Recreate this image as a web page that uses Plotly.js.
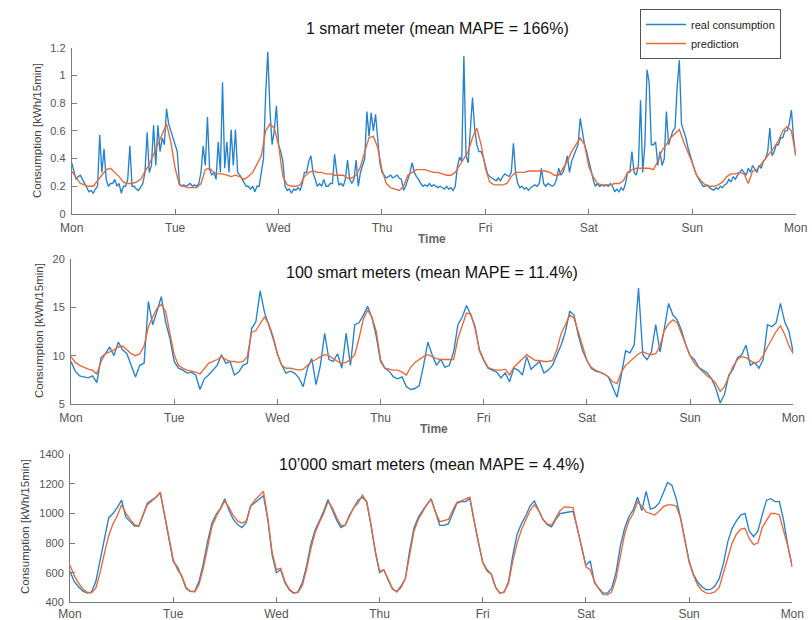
<!DOCTYPE html>
<html>
<head>
<meta charset="utf-8">
<script src="https://cdn.plot.ly/plotly-3.0.1.min.js"></script>
<style>
html,body{margin:0;padding:0;background:#fff;}
#chart{width:812px;height:620px;}
</style>
</head>
<body>
<div id="chart"></div>
<script>
// ---------- data ----------
const dayLabels = ['Mon','Tue','Wed','Thu','Fri','Sat','Sun','Mon'];
const dayTickHours = [0,24,48,72,96,120,144,168];

const seriesNames = ['real consumption','prediction'];

const panelTitles = [
  '1 smart meter (mean MAPE = 166%)',
  '100 smart meters (mean MAPE = 11.4%)',
  '10\u2019000 smart meters (mean MAPE = 4.4%)'
];

// 1 smart meter, real consumption, 30-minute readings (kWh/15min)
const real1 = [
  0.37,0.30,0.25,0.27,0.28,0.25,0.22,0.20,0.16,0.17,0.15,0.18,
  0.20,0.57,0.30,0.47,0.25,0.20,0.22,0.22,0.25,0.20,0.22,0.15,
  0.20,0.20,0.25,0.49,0.20,0.20,0.18,0.17,0.20,0.22,0.30,0.59,
  0.30,0.35,0.64,0.35,0.64,0.45,0.55,0.50,0.76,0.65,0.60,0.55,
  0.50,0.45,0.22,0.20,0.21,0.20,0.21,0.22,0.20,0.21,0.20,0.22,
  0.30,0.49,0.35,0.70,0.32,0.28,0.30,0.25,0.52,0.30,0.95,0.33,
  0.52,0.30,0.61,0.35,0.61,0.30,0.28,0.25,0.22,0.20,0.20,0.18,
  0.20,0.16,0.20,0.20,0.30,0.40,0.86,1.17,0.75,0.50,0.60,0.78,
  0.50,0.45,0.38,0.20,0.17,0.18,0.15,0.18,0.17,0.19,0.17,0.22,
  0.30,0.30,0.38,0.42,0.30,0.25,0.20,0.22,0.20,0.25,0.20,0.20,
  0.22,0.22,0.43,0.30,0.21,0.22,0.20,0.25,0.39,0.25,0.22,0.25,
  0.39,0.20,0.30,0.35,0.40,0.74,0.56,0.73,0.60,0.72,0.56,0.37,
  0.30,0.28,0.26,0.27,0.28,0.26,0.27,0.28,0.26,0.25,0.17,0.20,
  0.25,0.30,0.37,0.30,0.27,0.25,0.22,0.20,0.21,0.20,0.22,0.20,
  0.21,0.20,0.19,0.20,0.19,0.18,0.20,0.18,0.19,0.17,0.20,0.34,
  0.41,0.38,1.14,0.42,0.37,0.60,0.84,0.62,0.50,0.45,0.45,0.41,
  0.35,0.29,0.27,0.26,0.25,0.24,0.26,0.24,0.27,0.29,0.28,0.27,
  0.30,0.51,0.30,0.22,0.19,0.20,0.18,0.19,0.17,0.19,0.20,0.21,
  0.20,0.22,0.33,0.22,0.20,0.22,0.21,0.20,0.21,0.25,0.33,0.28,
  0.30,0.35,0.42,0.30,0.38,0.42,0.45,0.50,0.69,0.58,0.50,0.45,
  0.38,0.30,0.25,0.20,0.22,0.20,0.21,0.20,0.21,0.20,0.22,0.20,
  0.16,0.18,0.16,0.19,0.17,0.22,0.30,0.30,0.45,0.30,0.28,0.35,
  0.82,0.30,0.50,1.04,0.95,0.50,0.50,0.52,0.35,0.45,0.35,0.40,
  0.74,0.50,0.55,0.60,0.62,0.92,1.11,0.65,0.60,0.55,0.48,0.42,
  0.36,0.32,0.28,0.25,0.23,0.20,0.20,0.21,0.19,0.18,0.17,0.19,
  0.18,0.20,0.19,0.21,0.22,0.25,0.23,0.27,0.25,0.28,0.30,0.32,
  0.30,0.28,0.33,0.30,0.35,0.32,0.30,0.35,0.33,0.38,0.40,0.45,
  0.62,0.42,0.45,0.50,0.50,0.55,0.55,0.60,0.60,0.65,0.75,0.55,
  0.42
];

// 1 smart meter, prediction, hourly
const pred1 = [
  0.31,0.26,0.22,0.21,0.20,0.20,0.24,0.28,0.32,0.33,0.30,0.27,0.23,0.22,0.22,0.23,0.25,0.30,0.36,0.43,0.50,0.58,0.65,0.52,
  0.33,0.21,0.20,0.19,0.19,0.19,0.22,0.32,0.33,0.30,0.29,0.29,0.28,0.27,0.28,0.27,0.25,0.27,0.30,0.36,0.42,0.60,0.65,0.62,
  0.50,0.27,0.21,0.20,0.20,0.21,0.27,0.30,0.31,0.30,0.30,0.29,0.29,0.28,0.28,0.28,0.26,0.26,0.28,0.34,0.45,0.55,0.56,0.48,
  0.32,0.22,0.19,0.18,0.17,0.20,0.28,0.30,0.32,0.32,0.32,0.31,0.30,0.30,0.29,0.28,0.28,0.30,0.35,0.40,0.45,0.55,0.62,0.50,
  0.33,0.23,0.21,0.21,0.21,0.22,0.27,0.30,0.30,0.30,0.31,0.31,0.31,0.31,0.31,0.30,0.28,0.28,0.33,0.38,0.45,0.50,0.55,0.50,
  0.34,0.27,0.22,0.21,0.21,0.21,0.22,0.22,0.24,0.30,0.32,0.33,0.33,0.33,0.33,0.32,0.38,0.46,0.50,0.55,0.58,0.61,0.52,0.45,
  0.37,0.28,0.24,0.21,0.20,0.20,0.21,0.23,0.27,0.29,0.29,0.30,0.29,0.22,0.31,0.32,0.36,0.40,0.44,0.48,0.53,0.60,0.63,0.60,
  0.43
];

// 100 smart meters, hourly
const real2 = [
  9.4,8.4,7.9,7.8,7.7,7.9,7.2,9.8,10.2,10.9,10.0,11.4,10.6,10.2,9.1,7.8,9.0,9.2,15.6,13.2,14.6,16.1,13.5,11.8,
  9.4,8.7,8.5,8.2,8.3,8.0,6.5,7.6,8.0,8.5,9.0,10.1,9.2,9.4,8.0,8.3,9.0,9.2,12.8,13.5,16.7,14.5,13.2,11.8,
  10.2,9.0,8.2,8.4,8.2,7.7,6.8,8.7,9.7,7.0,9.0,12.3,9.6,9.4,10.2,8.7,12.3,9.0,13.2,13.4,14.2,15.1,13.9,12.0,
  9.4,8.7,8.4,7.8,7.6,7.8,6.8,6.5,6.6,6.9,9.0,11.4,10.1,9.0,9.6,8.8,9.0,10.4,13.2,14.0,15.2,14.2,13.0,10.5,
  9.5,8.7,8.5,8.3,7.7,8.2,7.3,8.7,8.5,8.0,9.9,8.6,9.0,9.4,8.2,8.5,9.0,10.1,11.1,12.5,14.6,14.2,12.1,10.5,
  9.5,8.7,8.4,8.3,8.1,7.8,6.8,5.7,8.0,10.5,10.3,11.1,17.0,10.1,9.6,10.4,13.2,10.4,12.8,15.4,14.2,13.7,12.6,11.1,
  10.0,9.6,8.8,8.5,8.2,7.6,6.6,5.1,6.0,8.0,8.6,9.8,10.1,11.1,9.0,9.3,8.7,9.6,13.2,13.0,13.4,15.4,13.5,12.5,
  10.3
];
const pred2 = [
  9.9,9.3,9.0,8.8,8.6,8.5,8.1,9.4,10.2,10.4,10.6,10.9,11.0,10.6,10.2,10.0,10.2,11.0,13.0,14.0,14.9,15.3,14.6,12.3,
  10.1,9.0,8.7,8.5,8.4,8.3,8.1,8.7,9.2,9.4,9.6,9.9,9.6,9.4,9.4,9.3,9.4,9.9,12.4,12.6,13.3,14.0,13.3,12.0,
  10.2,9.0,8.7,8.7,8.6,8.5,8.6,9.0,9.4,9.6,9.9,10.1,10.0,9.7,9.4,9.2,9.3,9.6,10.1,11.8,13.8,14.7,14.0,12.5,
  9.6,8.7,8.6,8.5,8.5,8.3,8.0,8.8,9.3,9.6,9.9,10.1,9.9,9.7,9.6,9.6,9.6,9.6,11.8,13.0,14.4,14.3,12.8,10.6,
  9.6,8.8,8.6,8.5,8.5,8.6,8.0,8.8,9.2,9.6,10.1,9.8,9.5,9.5,9.4,9.4,9.5,10.6,12.3,13.2,14.2,13.9,12.5,10.9,
  9.5,8.8,8.5,8.3,8.1,7.8,7.3,7.1,8.3,9.0,9.4,9.9,10.2,10.4,10.2,10.1,10.2,11.0,12.6,13.3,13.7,13.4,12.3,11.2,
  10.0,9.2,8.7,8.3,7.9,7.6,7.1,6.3,6.8,7.8,8.9,9.6,9.9,9.8,9.5,9.2,9.4,10.0,10.9,11.7,12.5,13.1,12.2,11.0,
  10.2
];

// 10'000 smart meters, hourly
const real3 = [
  610,540,505,475,463,468,540,690,840,970,1000,1040,1090,975,945,915,915,1000,1070,1090,1110,1140,975,830,
  675,640,573,495,472,475,540,660,810,935,995,1035,1100,1020,960,925,905,940,1050,1075,1100,1120,960,720,
  600,620,530,485,461,470,530,641,790,889,950,1015,1095,1020,956,905,920,990,1040,1090,1110,1080,920,740,
  600,620,551,490,472,510,560,750,900,974,1020,1060,1100,1010,920,920,930,1000,1070,1080,1080,1100,940,800,
  670,620,590,500,461,470,540,720,860,930,985,1050,1085,1020,960,925,910,960,1000,1005,1010,1015,900,770,
  650,680,530,495,462,462,495,600,780,900,980,1024,1110,1020,1150,1030,1040,1070,1136,1210,1190,1100,970,821,
  680,590,535,505,485,487,510,560,665,810,900,950,990,1000,880,844,880,990,1090,1100,1080,1080,950,776,
  640
];
const pred3 = [
  650,580,530,490,468,465,495,600,730,850,930,985,1060,1000,960,925,915,990,1060,1085,1110,1145,985,840,
  690,620,580,500,475,470,520,630,780,910,980,1030,1085,1040,985,950,935,950,1050,1090,1120,1150,970,740,
  620,630,540,490,465,465,510,620,760,870,940,1000,1080,1040,975,920,920,985,1040,1070,1125,1080,930,750,
  610,620,555,495,470,500,560,730,880,960,1015,1060,1095,1010,945,950,960,1020,1075,1085,1100,1110,950,800,
  670,610,590,500,461,470,530,680,800,890,960,1020,1060,1020,960,930,920,970,1020,1045,1045,1040,900,770,
  640,620,540,490,452,450,470,560,720,860,950,1000,1080,1050,1010,1000,990,1015,1046,1058,1058,1050,970,821,
  670,585,515,480,462,460,470,500,600,710,800,860,895,900,830,790,800,905,956,1000,1001,990,880,776,
  640
];

// ---------- build ----------
const hourly = pred1.map((_, i) => i);
const halfHourly = real1.map((_, i) => i / 2);

const BLUE = '#2682cb';
const ORANGE = '#e6693a';
const LW = 1.35;

function tr(x, y, name, color, xa, ya, show) {
  return {
    type: 'scatter', mode: 'lines', x: x, y: y, name: name,
    line: {color: color, width: LW},
    xaxis: xa, yaxis: ya, showlegend: show, hoverinfo: 'skip'
  };
}

const data = [
  tr(halfHourly, real1, seriesNames[0], BLUE, 'x', 'y', true),
  tr(hourly, pred1, seriesNames[1], ORANGE, 'x', 'y', true),
  tr(hourly, real2, seriesNames[0], BLUE, 'x2', 'y2', false),
  tr(hourly, pred2, seriesNames[1], ORANGE, 'x2', 'y2', false),
  tr(hourly, real3, seriesNames[0], BLUE, 'x3', 'y3', false),
  tr(hourly, pred3, seriesNames[1], ORANGE, 'x3', 'y3', false)
];

const W = 812, H = 620;
const AX = '#7a7a7a';
const FAM = 'Liberation Sans, Arial, sans-serif';
const XTICKFONT = {family: FAM, size: 12, color: '#555555'};
const YTICKFONT = {family: FAM, size: 11, color: '#555555'};

function xax(l, r, anchor, standoff) {
  return {
    domain: [l / W, r / W], anchor: anchor, range: [0, 168],
    tickmode: 'array', tickvals: dayTickHours, ticktext: dayLabels,
    ticks: 'inside', ticklen: 5, tickcolor: AX, tickwidth: 1,
    showline: true, linecolor: AX, linewidth: 1, mirror: false,
    showgrid: false, zeroline: false, tickfont: XTICKFONT, ticklabelstandoff: standoff
  };
}
function yax(top, bottom, anchor, range, dtick) {
  return {
    domain: [1 - bottom / H, 1 - top / H], anchor: anchor, range: range,
    tick0: range[0], dtick: dtick,
    ticks: 'inside', ticklen: 5, tickcolor: AX, tickwidth: 1,
    showline: true, linecolor: AX, linewidth: 1, mirror: false,
    showgrid: false, zeroline: false, tickfont: YTICKFONT, ticklabelstandoff: 3
  };
}

function ann(text, px, py, size, color, angle) {
  return {
    text: text, xref: 'paper', yref: 'paper', x: px / W, y: 1 - py / H,
    xanchor: 'center', yanchor: 'middle', showarrow: false,
    textangle: angle || 0,
    font: {family: FAM, size: size, color: color}
  };
}

const yTitle = 'Consumption [kWh/15min]';

const layout = {
  width: W, height: H,
  margin: {l: 0, r: 0, t: 0, b: 0},
  paper_bgcolor: '#ffffff', plot_bgcolor: '#ffffff',
  font: {family: FAM},
  xaxis: xax(71.7, 795.7, 'y', 3),
  yaxis: yax(47.7, 214, 'x', [0, 1.2], 0.2),
  xaxis2: xax(71, 793.3, 'y2', 3),
  yaxis2: yax(259, 404, 'x2', [5, 20], 5),
  xaxis3: xax(70, 792.3, 'y3', 0),
  yaxis3: yax(454.3, 602.3, 'x3', [400, 1400], 200),
  showlegend: true,
  legend: {
    x: 640 / W, y: 1 - 9 / H, xanchor: 'left', yanchor: 'top',
    bgcolor: '#ffffff', bordercolor: '#555555', borderwidth: 1,
    font: {family: FAM, size: 11, color: '#222222'},
    tracegroupgap: 0, itemwidth: 40
  },
  annotations: [
    ann(panelTitles[0], 438, 29, 16, '#111111'),
    ann(panelTitles[1], 432, 272, 16, '#111111'),
    ann(panelTitles[2], 431, 464, 16, '#111111'),
    ann(yTitle, 37, 131, 11.5, '#444444', -90),
    ann(yTitle, 39, 331, 11.5, '#444444', -90),
    ann(yTitle, 25, 527, 11.5, '#444444', -90),
    ann('<b>Time</b>', 432, 239, 12, '#666666'),
    ann('<b>Time</b>', 434, 429, 12, '#666666')
  ]
};

Plotly.newPlot('chart', data, layout, {displayModeBar: false, staticPlot: true});
</script>
</body>
</html>
